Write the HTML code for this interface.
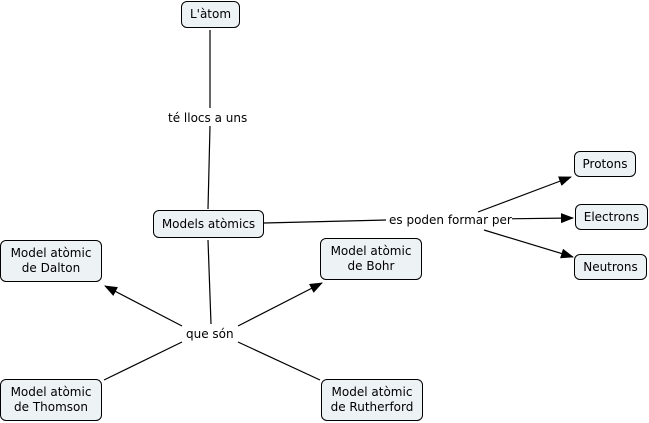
<!DOCTYPE html>
<html><head><meta charset="utf-8"><style>
body{margin:0;width:649px;height:423px;background:#fff;position:relative;overflow:hidden;font-family:Verdana,"DejaVu Sans",sans-serif;font-size:12px;color:#000}
.n{position:absolute;box-sizing:border-box;border:1px solid #000;border-radius:6px;background:#edf2f5;text-align:center;line-height:15px;display:flex;align-items:center;justify-content:center}
.l{position:absolute;background:#fff;white-space:nowrap;line-height:14px}
svg{position:absolute;left:0;top:0}
</style></head><body>
<svg width="649" height="423">
<defs><marker id="a" markerWidth="13" markerHeight="10" refX="12" refY="5" orient="auto" markerUnits="userSpaceOnUse"><path d="M0,0 L13,5 L0,10z" fill="#000"/></marker></defs>
<g stroke="#000" stroke-width="1.2" fill="none">
<line x1="210" y1="30" x2="210" y2="108"/>
<line x1="210" y1="126" x2="208" y2="209"/>
<line x1="264" y1="223" x2="386" y2="220"/>
<line x1="478" y1="212" x2="571" y2="177" marker-end="url(#a)"/>
<line x1="492" y1="219" x2="573" y2="218" marker-end="url(#a)"/>
<line x1="484" y1="230" x2="573" y2="257" marker-end="url(#a)"/>
<line x1="208" y1="240" x2="211" y2="324"/>
<line x1="182" y1="326" x2="105" y2="286" marker-end="url(#a)"/>
<line x1="238" y1="326" x2="322" y2="283" marker-end="url(#a)"/>
<line x1="182" y1="342" x2="104" y2="380"/>
<line x1="238" y1="342" x2="320" y2="380"/>
</g></svg>
<div class="n" style="left:181px;top:1px;width:59px;height:27px">L'àtom</div>
<div class="n" style="left:153px;top:210px;width:111px;height:28px">Models atòmics</div>
<div class="n" style="left:0;top:240px;width:102px;height:42px">Model atòmic<br>de Dalton</div>
<div class="n" style="left:320px;top:238px;width:102px;height:42px">Model atòmic<br>de Bohr</div>
<div class="n" style="left:574px;top:151px;width:62px;height:26px">Protons</div>
<div class="n" style="left:575px;top:204px;width:73px;height:26px">Electrons</div>
<div class="n" style="left:574px;top:254px;width:73px;height:26px">Neutrons</div>
<div class="n" style="left:0;top:379px;width:102px;height:42px">Model atòmic<br>de Thomson</div>
<div class="n" style="left:321px;top:379px;width:102px;height:42px">Model atòmic<br>de Rutherford</div>
<div class="l" style="left:168px;top:111px">té llocs a uns</div>
<div class="l" style="left:389px;top:213px">es poden formar per</div>
<div class="l" style="left:186px;top:327px">que són</div>
</body></html>
